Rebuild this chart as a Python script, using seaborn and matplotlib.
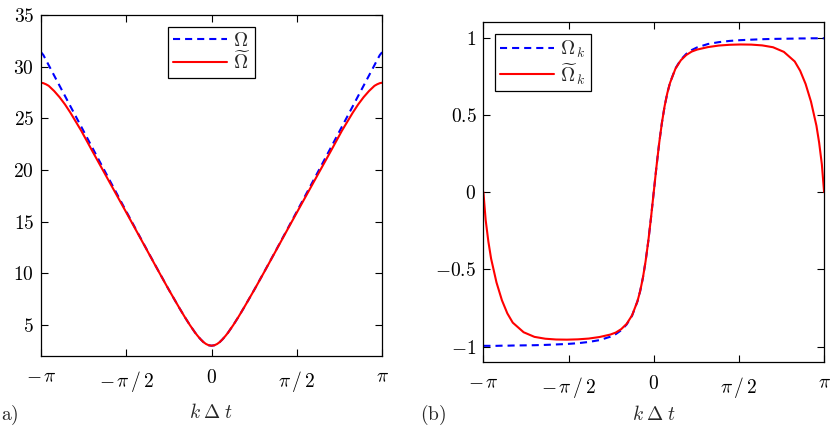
import matplotlib
matplotlib.use('Agg')
import matplotlib.pyplot as plt
import seaborn as sns
import numpy as np
import pandas as pd

# k*dt sample points (right half; curves are mirrored: Omega even, Omega_k odd)
k_half = [0.0, 0.05, 0.1, 0.15, 0.2, 0.25, 0.3, 0.4, 0.5, 0.6, 0.7, 0.8, 1.0,
          1.2, 1.4, 1.6, 1.8, 2.0, 2.2, 2.4, 2.6, 2.7, 2.8, 2.9, 3.0, 3.05, 3.1,
          np.pi]

# panel (a)
omega = [3.00, 3.04, 3.16, 3.35, 3.61, 3.91, 4.24, 5.00, 5.83, 6.71, 7.62, 8.54,
         10.44, 12.37, 14.32, 16.28, 18.25, 20.22, 22.20, 24.19, 26.17, 27.17,
         28.16, 29.15, 30.15, 30.65, 31.14, 31.4]
omega_t = [3.00, 3.04, 3.16, 3.35, 3.61, 3.91, 4.24, 5.00, 5.83, 6.71, 7.62, 8.53,
           10.42, 12.34, 14.26, 16.17, 18.07, 19.97, 21.87, 23.8, 25.55, 26.35,
           27.05, 27.65, 28.15, 28.3, 28.41, 28.45]

# panel (b)
omega_k = [0.0, 0.164, 0.316, 0.447, 0.555, 0.640, 0.707, 0.800, 0.857, 0.894,
           0.919, 0.936, 0.958, 0.970, 0.978, 0.983, 0.986, 0.989, 0.991, 0.992,
           0.993, 0.994, 0.994, 0.995, 0.995, 0.995, 0.995, 0.995]
omega_kt = [0.0, 0.164, 0.316, 0.447, 0.555, 0.640, 0.706, 0.798, 0.853, 0.887,
            0.909, 0.922, 0.938, 0.948, 0.953, 0.955, 0.954, 0.949, 0.937, 0.907,
            0.845, 0.785, 0.70, 0.585, 0.43, 0.32, 0.18, 0.0]

kh = np.array(k_half)
k = np.concatenate([-kh[::-1], kh[1:]])


def even(v):
    v = np.array(v)
    return np.concatenate([v[::-1], v[1:]])


def odd(v):
    v = np.array(v)
    return np.concatenate([-v[::-1], v[1:]])


df_a = pd.DataFrame({'k': k, 'Omega': even(omega), 'Omega_t': even(omega_t)})
df_b = pd.DataFrame({'k': k, 'Omega_k': odd(omega_k), 'Omega_kt': odd(omega_kt)})

sns.set_style('ticks')
plt.rcParams['mathtext.fontset'] = 'cm'
plt.rcParams['font.family'] = ['DejaVu Serif']
plt.rcParams['axes.linewidth'] = 0.9

fig = plt.figure(figsize=(8.32, 4.30), dpi=100)
ax1 = fig.add_axes([0.0493, 0.172, 0.41, 0.793])
ax2 = fig.add_axes([0.581, 0.158, 0.4095, 0.7907])

fs = 14
blue = '#0000ff'
red = '#ff0000'

sns.lineplot(data=df_a, x='k', y='Omega', ax=ax1, color=blue, lw=1.5,
             label=r'$\Omega$', sort=False)
ax1.lines[-1].set_dashes((3.4, 2.4))
sns.lineplot(data=df_a, x='k', y='Omega_t', ax=ax1, color=red, lw=1.5,
             label=r'$\widetilde{\Omega}$', sort=False)

sns.lineplot(data=df_b, x='k', y='Omega_k', ax=ax2, color=blue, lw=1.5,
             label=r'$\Omega_{\,k}$', sort=False)
ax2.lines[-1].set_dashes((3.4, 2.4))
sns.lineplot(data=df_b, x='k', y='Omega_kt', ax=ax2, color=red, lw=1.5,
             label=r'$\widetilde{\Omega}_{\,k}$', sort=False)

xt = [-np.pi, -np.pi / 2, 0, np.pi / 2, np.pi]
xl = [r'$-\,\pi$', r'$-\,\pi\,/\,2$', r'$0$', r'$\pi\,/\,2$', r'$\pi$']

for ax in (ax1, ax2):
    ax.set_xlim(-np.pi, np.pi)
    ax.set_xticks(xt)
    ax.set_xticklabels(xl, fontsize=fs)
    ax.set_xlabel(r'$k\;\Delta\;t$', fontsize=fs)
    ax.set_ylabel('')
    ax.tick_params(direction='in', top=True, right=True, length=5, width=0.8,
                   colors='black')
    ax.tick_params(axis='x', pad=9)
    ax.tick_params(axis='y', pad=5)
    for s in ax.spines.values():
        s.set_visible(True)
        s.set_color('black')

ax1.xaxis.set_label_coords(0.5, -0.138)
ax2.xaxis.set_label_coords(0.5, -0.127)

ax1.set_ylim(2, 35)
ax1.set_yticks([5, 10, 15, 20, 25, 30, 35])
ax1.set_yticklabels([rf'${v}$' for v in [5, 10, 15, 20, 25, 30, 35]], fontsize=fs)

ax2.set_ylim(-1.1, 1.1)
ax2.set_yticks([-1, -0.5, 0, 0.5, 1])
ax2.set_yticklabels([r'$-1$', r'$-0.5$', r'$0$', r'$0.5$', r'$1$'], fontsize=fs)

for ax, loc in ((ax1, 'upper center'), (ax2, 'upper left')):
    leg = ax.legend(loc=loc, fontsize=fs, handlelength=2.8, handletextpad=0.3,
                    labelspacing=0.05, borderpad=0.25, fancybox=False,
                    framealpha=1, borderaxespad=0.6)
    leg.get_frame().set_edgecolor('black')
    leg.get_frame().set_linewidth(0.9)

fig.text(1 / 832, 1 - 415 / 430, r'$\mathrm{a)}$', ha='left', va='center',
         fontsize=fs)
fig.text(420 / 832, 1 - 415 / 430, r'$\mathrm{(b)}$', ha='left', va='center',
         fontsize=fs)

fig.savefig('out.png', dpi=100)
